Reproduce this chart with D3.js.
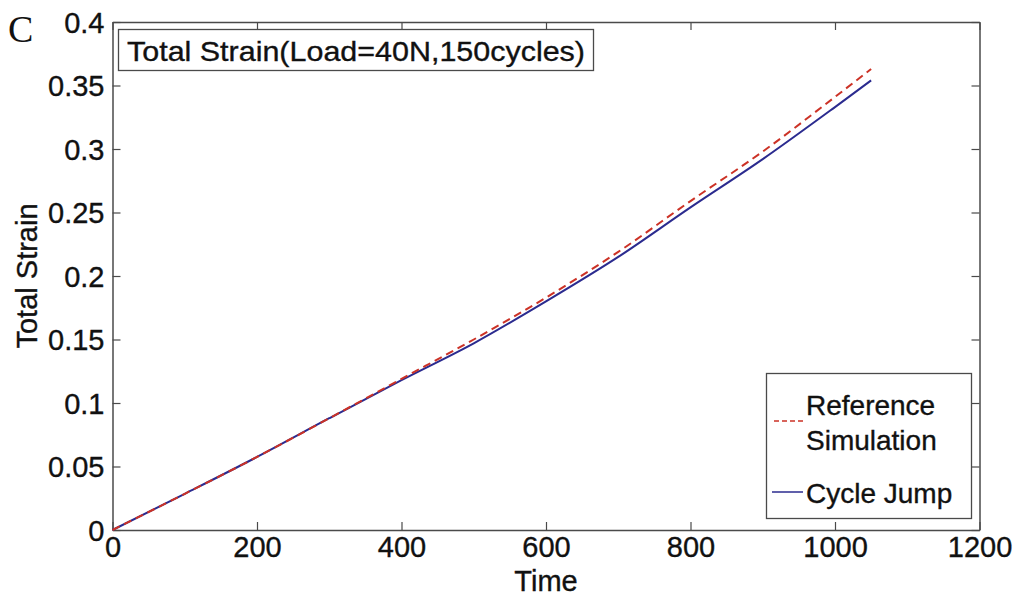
<!DOCTYPE html>
<html>
<head>
<meta charset="utf-8">
<script src="https://cdn.jsdelivr.net/npm/d3@7"></script>
<style>
  body { margin: 0; background: #fff; }
  text { font-family: "Liberation Sans", Arial, sans-serif; fill: #111; stroke: #111; stroke-width: 0.35px; }
</style>
</head>
<body>
<div id="chart"></div>
<script>
// values
const times = [0, 100, 200, 300, 400, 500, 600, 700, 800, 900, 1000, 1050];
const referenceSim = [0, 0.0285, 0.0575, 0.088, 0.119, 0.150, 0.183, 0.219, 0.259, 0.298, 0.341, 0.363];
const cycleJump = [0, 0.0285, 0.0575, 0.088, 0.118, 0.147, 0.180, 0.215, 0.254, 0.292, 0.333, 0.354];
const xTicks = [0, 200, 400, 600, 800, 1000, 1200];
const yTicks = [0, 0.05, 0.1, 0.15, 0.2, 0.25, 0.3, 0.35, 0.4];
const yTickLabels = ["0", "0.05", "0.1", "0.15", "0.2", "0.25", "0.3", "0.35", "0.4"];
const titleText = "Total Strain(Load=40N,150cycles)";
const legendNames = [["Reference", "Simulation"], ["Cycle Jump"]];

const W = 1023, H = 599;
const margin = { left: 112.5, right: 43.5, top: 22, bottom: 69 };
const width = W - margin.left - margin.right;
const height = H - margin.top - margin.bottom;

const svg = d3.select("#chart").append("svg")
    .attr("width", W)
    .attr("height", H);

const g = svg.append("g")
    .attr("transform", `translate(${margin.left}, ${margin.top})`);

const x = d3.scaleLinear().domain([0, 1200]).range([0, width]);
const y = d3.scaleLinear().domain([0, 0.4]).range([height, 0]);

const axisColor = "#4a4a4a";
const tickLen = 8;

// axes with inward ticks (matlab style), mirrored on top and right
const xAxis = g.append("g")
    .attr("transform", `translate(0, ${height})`)
    .call(d3.axisBottom(x).tickValues(xTicks).tickSizeInner(-tickLen).tickSizeOuter(0).tickPadding(9)
        .tickFormat(d3.format("d")));
const xAxisTop = g.append("g")
    .call(d3.axisTop(x).tickValues(xTicks).tickSizeInner(-tickLen).tickSizeOuter(0).tickFormat(""));
const yAxis = g.append("g")
    .call(d3.axisLeft(y).tickValues(yTicks).tickSizeInner(-tickLen).tickSizeOuter(0).tickPadding(8)
        .tickFormat((d, i) => yTickLabels[i]));
const yAxisRight = g.append("g")
    .attr("transform", `translate(${width}, 0)`)
    .call(d3.axisRight(y).tickValues(yTicks).tickSizeInner(-tickLen).tickSizeOuter(0).tickFormat(""));

[xAxis, xAxisTop, yAxis, yAxisRight].forEach(a => {
    a.select(".domain").attr("stroke", axisColor).attr("stroke-width", 1.5);
    a.selectAll(".tick line").attr("stroke", axisColor).attr("stroke-width", 1.2);
    a.selectAll(".tick text")
        .attr("fill", "#111")
        .style("font-family", "'Liberation Sans', Arial, sans-serif")
        .style("font-size", "29px");
});
xAxis.selectAll(".tick text").attr("dy", "0.62em");
yAxis.selectAll(".tick text").attr("dy", "0.35em");

// curves
const line = d3.line()
    .x((d, i) => x(times[i]))
    .y(d => y(d))
    .curve(d3.curveMonotoneX);

g.append("path")
    .datum(cycleJump)
    .attr("fill", "none")
    .attr("stroke", "#2b2b8f")
    .attr("stroke-width", 2)
    .attr("d", line);

g.append("path")
    .datum(referenceSim)
    .attr("fill", "none")
    .attr("stroke", "#cc3226")
    .attr("stroke-width", 2)
    .attr("stroke-dasharray", "8,5")
    .attr("d", line);

// axis labels
svg.append("text")
    .attr("x", margin.left + x(600))
    .attr("y", 591)
    .attr("text-anchor", "middle")
    .style("font-size", "29px")
    .text("Time");

svg.append("text")
    .attr("transform", `translate(37, ${margin.top + height / 2}) rotate(-90)`)
    .attr("text-anchor", "middle")
    .style("font-size", "29px")
    .text("Total Strain");

// panel letter
svg.append("text")
    .attr("x", 8)
    .attr("y", 42)
    .style("font-family", "'Liberation Serif', 'Times New Roman', serif")
    .style("font-size", "38px")
    .style("stroke-width", "0")
    .text("C");

// title box inside the axes
const titleG = svg.append("g");
titleG.append("rect")
    .attr("x", 118.5).attr("y", 29.5)
    .attr("width", 475).attr("height", 41)
    .attr("fill", "#fff")
    .attr("stroke", axisColor)
    .attr("stroke-width", 1.3);
titleG.append("text")
    .attr("x", 127)
    .attr("y", 61)
    .attr("textLength", 458)
    .attr("lengthAdjust", "spacingAndGlyphs")
    .style("font-size", "28px")
    .text(titleText);

// legend
const legend = svg.append("g");
legend.append("rect")
    .attr("x", 766.5).attr("y", 373.5)
    .attr("width", 205).attr("height", 145)
    .attr("fill", "#fff")
    .attr("stroke", axisColor)
    .attr("stroke-width", 1.3);

legend.append("line")
    .attr("x1", 774).attr("x2", 803)
    .attr("y1", 421).attr("y2", 421)
    .attr("stroke", "#cc3226")
    .attr("stroke-width", 1.5)
    .attr("stroke-dasharray", "5,3");
legend.append("line")
    .attr("x1", 772).attr("x2", 803)
    .attr("y1", 492).attr("y2", 492)
    .attr("stroke", "#2b2b8f")
    .attr("stroke-width", 1.5);

legend.append("text").attr("x", 806).attr("y", 415).style("font-size", "28px").text(legendNames[0][0]);
legend.append("text").attr("x", 806).attr("y", 450).style("font-size", "28px").text(legendNames[0][1]);
legend.append("text").attr("x", 806).attr("y", 503).style("font-size", "28px").text(legendNames[1][0]);
</script>
</body>
</html>
